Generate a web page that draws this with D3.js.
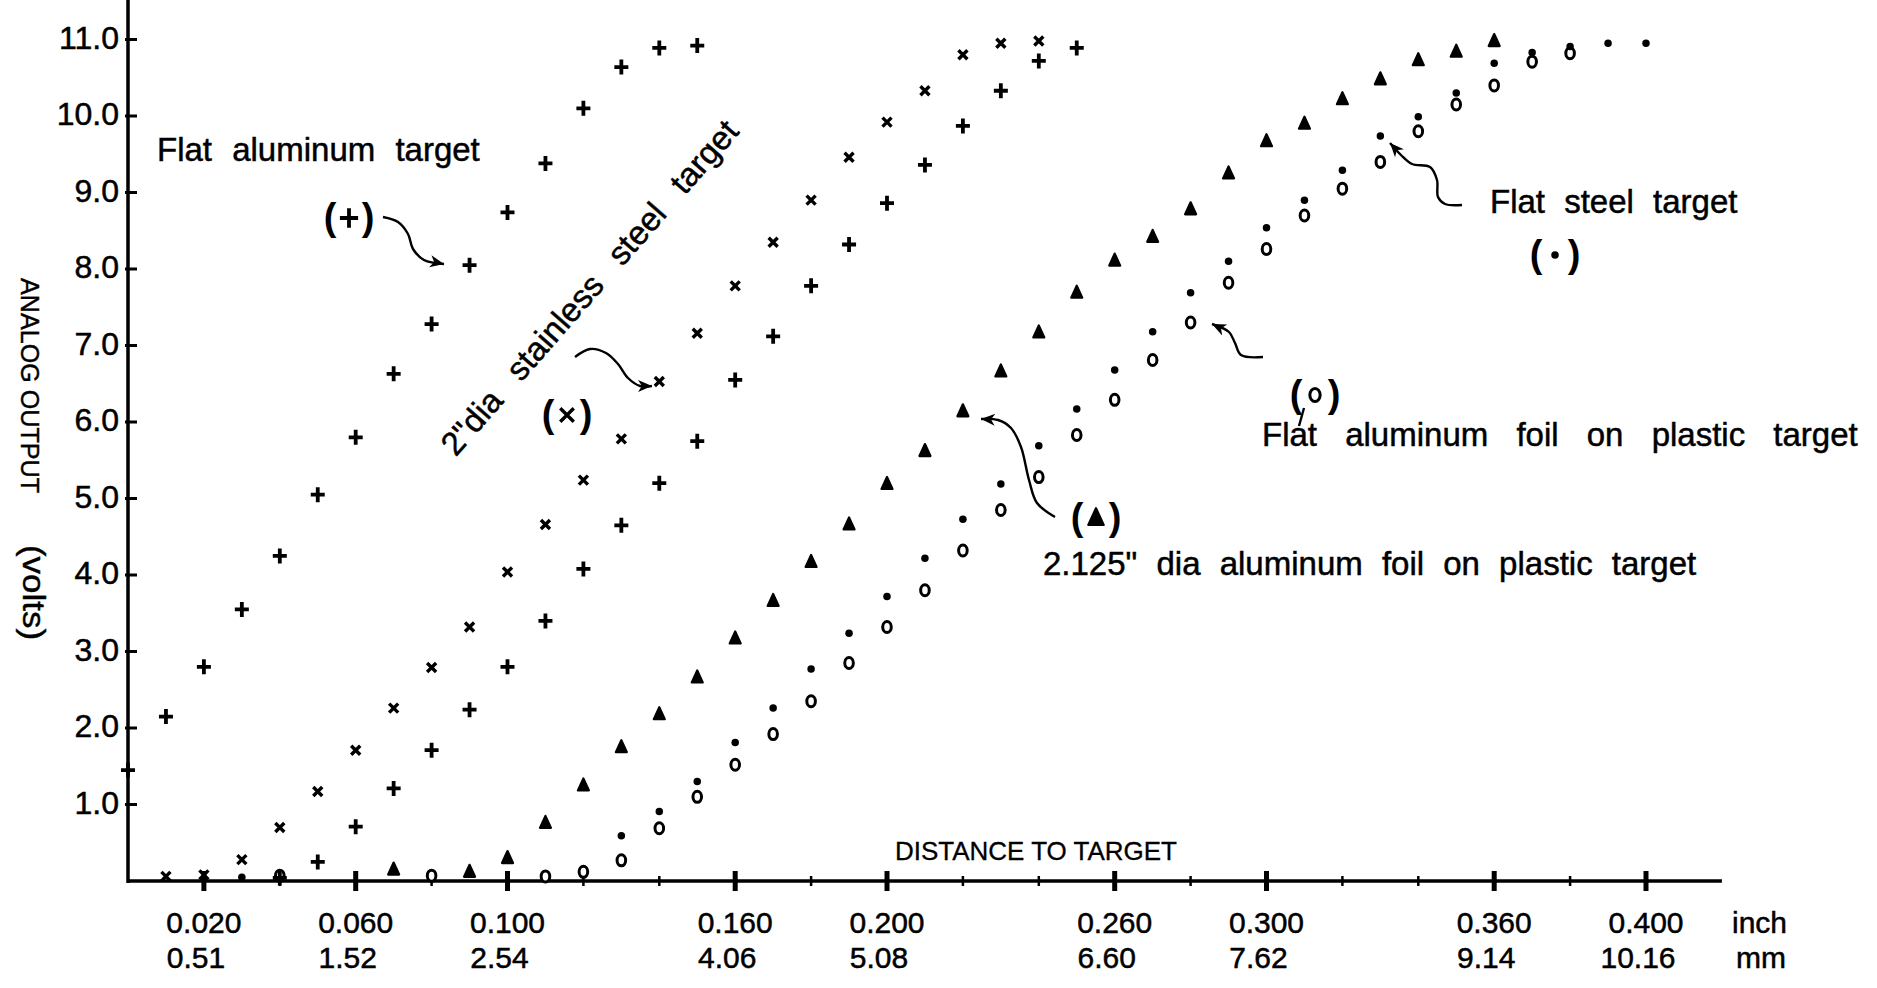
<!DOCTYPE html>
<html>
<head>
<meta charset="utf-8">
<script src="https://cdn.jsdelivr.net/npm/d3@7"></script>
<style>
  html, body { margin: 0; padding: 0; background: #fff; }
  svg { display: block; }
  text { font-family: "Liberation Sans", Arial, Helvetica, sans-serif; fill: #000; }
</style>
</head>
<body>
<div id="chart"></div>
<script>
// distance to target (inch) and analog output (volts)

// (+) flat aluminum target
const distFlatAl = [0.00, 0.01, 0.02, 0.03, 0.04, 0.05, 0.06, 0.07, 0.08, 0.09, 0.10, 0.11, 0.12, 0.13, 0.14, 0.15];
const voltFlatAl = [1.45, 2.15, 2.80, 3.55, 4.25, 5.05, 5.80, 6.63, 7.28, 8.05, 8.74, 9.38, 10.10, 10.64, 10.89, 10.92];

// (x) 2" dia stainless steel target
const distSS = [0.01, 0.02, 0.03, 0.04, 0.05, 0.06, 0.07, 0.08, 0.09, 0.10, 0.11, 0.12,
                0.13, 0.14, 0.15, 0.16, 0.17, 0.18, 0.19, 0.20, 0.21, 0.22, 0.23, 0.24];
const voltSS = [0.06, 0.08, 0.28, 0.70, 1.17, 1.71, 2.26, 2.79, 3.32, 4.04, 4.66, 5.24,
                5.78, 6.53, 7.16, 7.78, 8.35, 8.90, 9.46, 9.92, 10.33, 10.80, 10.95, 10.98];

// second (+) series, no label on the scan
const distPlus2 = [0.04, 0.05, 0.06, 0.07, 0.08, 0.09, 0.10, 0.11, 0.12, 0.13, 0.14,
                   0.15, 0.16, 0.17, 0.18, 0.19, 0.20, 0.21, 0.22, 0.23, 0.24, 0.25];
const voltPlus2 = [0.04, 0.25, 0.71, 1.21, 1.71, 2.24, 2.80, 3.40, 4.08, 4.65, 5.20,
                   5.75, 6.55, 7.12, 7.78, 8.32, 8.86, 9.36, 9.87, 10.33, 10.72, 10.89];

// (triangle) 2.125" dia aluminum foil on plastic target
const distTri = [0.07, 0.09, 0.10, 0.11, 0.12, 0.13, 0.14, 0.15, 0.16, 0.17, 0.18, 0.19, 0.20, 0.21, 0.22,
                 0.23, 0.24, 0.25, 0.26, 0.27, 0.28, 0.29, 0.30, 0.31, 0.32, 0.33, 0.34, 0.35, 0.36];
const voltTri = [0.15, 0.12, 0.30, 0.76, 1.25, 1.75, 2.18, 2.66, 3.17, 3.66, 4.17, 4.66, 5.19, 5.62, 6.14,
                 6.66, 7.17, 7.69, 8.11, 8.42, 8.78, 9.25, 9.67, 9.90, 10.22, 10.48, 10.73, 10.84, 10.98];

// (.) flat steel target
const distSteel = [0.03, 0.13, 0.14, 0.15, 0.16, 0.17, 0.18, 0.19, 0.20, 0.21, 0.22, 0.23, 0.24, 0.25, 0.26,
                   0.27, 0.28, 0.29, 0.30, 0.31, 0.32, 0.33, 0.34, 0.35, 0.36, 0.37, 0.38, 0.39, 0.40];
const voltSteel = [0.05, 0.59, 0.91, 1.30, 1.81, 2.26, 2.77, 3.24, 3.72, 4.22, 4.73, 5.19, 5.69, 6.17, 6.68,
                   7.18, 7.69, 8.10, 8.54, 8.90, 9.29, 9.74, 9.99, 10.30, 10.69, 10.83, 10.91, 10.95, 10.95];

// (o) flat aluminum foil on plastic target
const distFoil = [0.04, 0.08, 0.11, 0.12, 0.13, 0.14, 0.15, 0.16, 0.17, 0.18, 0.19, 0.20, 0.21, 0.22, 0.23,
                  0.24, 0.25, 0.26, 0.27, 0.28, 0.29, 0.30, 0.31, 0.32, 0.33, 0.34, 0.35, 0.36, 0.37, 0.38];
const voltFoil = [0.07, 0.07, 0.06, 0.12, 0.27, 0.69, 1.10, 1.52, 1.92, 2.35, 2.85, 3.32, 3.80, 4.32, 4.85,
                  5.28, 5.83, 6.29, 6.81, 7.30, 7.82, 8.26, 8.70, 9.05, 9.40, 9.80, 10.15, 10.40, 10.71, 10.82];

// axes
const voltTicks  = [1, 2, 3, 4, 5, 6, 7, 8, 9, 10, 11];
const voltLabels = ['1.0', '2.0', '3.0', '4.0', '5.0', '6.0', '7.0', '8.0', '9.0', '10.0', '11.0'];
const inchTicks  = [0.02, 0.06, 0.10, 0.16, 0.20, 0.26, 0.30, 0.36, 0.40];
const inchLabels = ['0.020', '0.060', '0.100', '0.160', '0.200', '0.260', '0.300', '0.360', '0.400'];
const mmLabels   = ['0.51', '1.52', '2.54', '4.06', '5.08', '6.60', '7.62', '9.14', '10.16'];
const minorTicks = [0.04, 0.08, 0.12, 0.14, 0.18, 0.22, 0.24, 0.28, 0.32, 0.34, 0.38];

const W = 1877, H = 988;

const x = d3.scaleLinear().domain([0, 0.40]).range([128, 1646]);
const y = d3.scaleLinear().domain([0, 11]).range([881, 39.5]);

const svg = d3.select('#chart').append('svg')
  .attr('width', W).attr('height', H)
  .attr('viewBox', `0 0 ${W} ${H}`);

svg.append('rect').attr('width', W).attr('height', H).attr('fill', '#fff');

// marker shapes
const shapes = {
  plus:  s => `M${-7 * s},0H${7 * s}M0,${-7.5 * s}V${7.5 * s}`,
  times: s => `M${-4.5 * s},${-4.5 * s}L${4.5 * s},${4.5 * s}M${4.5 * s},${-4.5 * s}L${-4.5 * s},${4.5 * s}`,
  tri:   s => `M0,${-7 * s}L${5.5 * s},${5 * s}L${-5.5 * s},${5 * s}Z`,
  dot:   s => d3.symbol(d3.symbolCircle, 44 * s * s)(),
  ring:  s => `M0,${-5.5 * s}A${4.3 * s},${5.5 * s} 0 1,1 0,${5.5 * s}A${4.3 * s},${5.5 * s} 0 1,1 0,${-5.5 * s}Z`
};

function styleShape(sel, shape) {
  if (shape === 'plus')  sel.attr('fill', 'none').attr('stroke', '#000').attr('stroke-width', 3.8);
  if (shape === 'times') sel.attr('fill', 'none').attr('stroke', '#000').attr('stroke-width', 3.4);
  if (shape === 'tri')   sel.attr('fill', '#000').attr('stroke', '#000').attr('stroke-width', 2.2).attr('stroke-linejoin', 'round');
  if (shape === 'dot')   sel.attr('fill', '#000').attr('stroke', 'none');
  if (shape === 'ring')  sel.attr('fill', '#fff').attr('stroke', '#000').attr('stroke-width', 3);
}

const series = [
  { dist: distFoil,   volt: voltFoil,   shape: 'ring'  },
  { dist: distSteel,  volt: voltSteel,  shape: 'dot'   },
  { dist: distTri,    volt: voltTri,    shape: 'tri'   },
  { dist: distPlus2,  volt: voltPlus2,  shape: 'plus'  },
  { dist: distSS,     volt: voltSS,     shape: 'times' },
  { dist: distFlatAl, volt: voltFlatAl, shape: 'plus'  }
];

// axis lines
svg.append('line')
  .attr('x1', x(0)).attr('x2', x(0.42))
  .attr('y1', y(0)).attr('y2', y(0))
  .attr('stroke', '#000').attr('stroke-width', 3.5);
svg.append('line')
  .attr('x1', x(0)).attr('x2', x(0))
  .attr('y1', y(0) + 2).attr('y2', 0)
  .attr('stroke', '#000').attr('stroke-width', 3.5);

// y ticks + labels
const yt = svg.append('g').selectAll('g').data(voltTicks).join('g');
yt.append('line')
  .attr('x1', x(0) - 3).attr('x2', x(0) + 9)
  .attr('y1', d => y(d)).attr('y2', d => y(d))
  .attr('stroke', '#000').attr('stroke-width', 3);
yt.append('text')
  .attr('x', x(0) - 9).attr('y', d => y(d) + 9)
  .attr('text-anchor', 'end')
  .attr('font-size', 32)
  .attr('stroke', '#000').attr('stroke-width', 0.5)
  .text((d, i) => voltLabels[i]);

// x ticks
svg.append('g').selectAll('line').data(minorTicks).join('line')
  .attr('x1', d => x(d)).attr('x2', d => x(d))
  .attr('y1', y(0) - 5).attr('y2', y(0) + 5)
  .attr('stroke', '#000').attr('stroke-width', 2.5);
svg.append('g').selectAll('line').data(inchTicks).join('line')
  .attr('x1', d => x(d)).attr('x2', d => x(d))
  .attr('y1', y(0) - 10).attr('y2', y(0) + 10)
  .attr('stroke', '#000').attr('stroke-width', 5);

const xt = svg.append('g').selectAll('g').data(inchTicks).join('g');
xt.append('text')
  .attr('x', d => x(d)).attr('y', y(0) + 52)
  .attr('text-anchor', 'middle')
  .attr('font-size', 30)
  .attr('stroke', '#000').attr('stroke-width', 0.5)
  .text((d, i) => inchLabels[i]);
xt.append('text')
  .attr('x', d => x(d) - 8).attr('y', y(0) + 87)
  .attr('text-anchor', 'middle')
  .attr('font-size', 30)
  .attr('stroke', '#000').attr('stroke-width', 0.5)
  .text((d, i) => mmLabels[i]);

svg.append('text').attr('x', x(0.40) + 86).attr('y', y(0) + 52)
  .attr('font-size', 30).attr('stroke', '#000').attr('stroke-width', 0.5).text('inch');
svg.append('text').attr('x', x(0.40) + 90).attr('y', y(0) + 87)
  .attr('font-size', 30).attr('stroke', '#000').attr('stroke-width', 0.5).text('mm');

svg.append('text').attr('x', 895).attr('y', 860)
  .attr('font-size', 25).attr('textLength', 282).attr('lengthAdjust', 'spacingAndGlyphs')
  .attr('stroke', '#000').attr('stroke-width', 0.3)
  .text('DISTANCE TO TARGET');

// y title, rotated
svg.append('text')
  .attr('transform', 'translate(21,278) rotate(90)')
  .attr('font-size', 26).attr('textLength', 215).attr('lengthAdjust', 'spacingAndGlyphs')
  .attr('stroke', '#000').attr('stroke-width', 0.4)
  .text('ANALOG OUTPUT');
svg.append('text')
  .attr('transform', 'translate(23,545) rotate(90)')
  .attr('font-size', 31).attr('textLength', 95).attr('lengthAdjust', 'spacingAndGlyphs')
  .attr('stroke', '#000').attr('stroke-width', 0.4)
  .text('(volts)');

// data points
series.forEach(s => {
  const pts = d3.zip(s.dist, s.volt);
  svg.append('g').selectAll('path').data(pts).join('path')
    .attr('transform', d => `translate(${x(d[0])},${y(d[1])})`)
    .attr('d', shapes[s.shape](1))
    .call(styleShape, s.shape);
});

// annotations
function note(txt, px, py, spacing) {
  return svg.append('text').attr('x', px).attr('y', py)
    .attr('font-size', 33).attr('word-spacing', spacing)
    .attr('stroke', '#000').attr('stroke-width', 0.5)
    .text(txt);
}
note('Flat aluminum target', 157, 161, 11);
note('Flat steel target', 1490, 213, 10);
note('Flat aluminum foil on plastic target', 1262, 446, 19);
note('2.125" dia aluminum foil on plastic target', 1043, 575, 10);

svg.append('text')
  .attr('transform', 'translate(598,295) rotate(-48.8)')
  .attr('text-anchor', 'middle')
  .attr('font-size', 33).attr('word-spacing', 16)
  .attr('stroke', '#000').attr('stroke-width', 0.5)
  .text('2"dia stainless steel target');

// hand drawn keys "(+)" etc
function key(shape, cx, cy, k) {
  const g = svg.append('g').attr('transform', `translate(${cx},${cy})`);
  g.append('text').attr('x', -19).attr('y', 12).attr('text-anchor', 'middle')
    .attr('font-size', 38).attr('font-weight', 'bold').text('(');
  g.append('text').attr('x', 19).attr('y', 12).attr('text-anchor', 'middle')
    .attr('font-size', 38).attr('font-weight', 'bold').text(')');
  g.append('path').attr('d', shapes[shape](k)).call(styleShape, shape);
}
key('plus', 349, 218, 1.3);
key('times', 567, 415, 1.5);
key('dot', 1555, 255, 1.0);
key('ring', 1315, 395, 1.2);
key('tri', 1096, 518, 1.4);

// curved arrows
function arrow(pts) {
  svg.append('path')
    .attr('d', d3.line().curve(d3.curveCatmullRom)(pts))
    .attr('fill', 'none').attr('stroke', '#000').attr('stroke-width', 2.4);
  const a = pts[pts.length - 2], b = pts[pts.length - 1];
  const ang = Math.atan2(b[1] - a[1], b[0] - a[0]) * 180 / Math.PI;
  svg.append('path')
    .attr('d', 'M0,0L-14,-6L-10,0L-14,6Z')
    .attr('transform', `translate(${b[0]},${b[1]}) rotate(${ang})`)
    .attr('fill', '#000');
}
arrow([[383, 217], [398, 222], [408, 234], [413, 249], [424, 260], [444, 264]]);
arrow([[575, 357], [590, 349], [606, 353], [618, 364], [628, 378], [640, 386], [652, 386]]);
arrow([[1055, 517], [1037, 503], [1029, 480], [1021, 447], [1011, 428], [998, 420], [981, 419]]);
arrow([[1263, 357], [1241, 355], [1235, 343], [1229, 332], [1212, 324]]);
arrow([[1462, 205], [1445, 204], [1438, 197], [1437, 180], [1430, 167], [1412, 164], [1401, 155], [1390, 143]]);

// small stroke under "(o)"
svg.append('line').attr('x1', 1304).attr('y1', 408).attr('x2', 1299).attr('y2', 426)
  .attr('stroke', '#000').attr('stroke-width', 2.4);
</script>
</body>
</html>
